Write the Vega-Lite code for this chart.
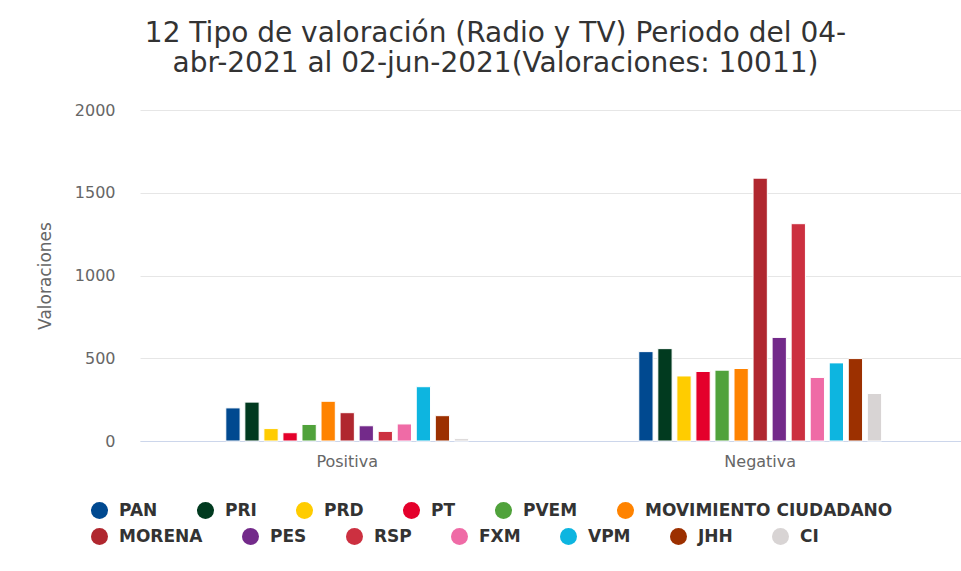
{
  "$schema": "https://vega.github.io/schema/vega-lite/v6.json",
  "width": 821,
  "height": 331,
  "autosize": {"type": "none"},
  "padding": {"left": 140, "top": 110, "right": 0, "bottom": 130},
  "background": "white",
  "title": {
    "text": ["12 Tipo de valoración (Radio y TV) Periodo del 04-", "abr-2021 al 02-jun-2021(Valoraciones: 10011)"],
    "font": "DejaVu Sans",
    "fontSize": 28,
    "fontWeight": "normal",
    "color": "#333333",
    "lineHeight": 30,
    "anchor": "middle",
    "frame": "group",
    "dx": -55,
    "offset": 24
  },
  "data": {
    "values": [
      {"tipo": "Positiva", "partido": "PAN", "valor": 200},
      {"tipo": "Positiva", "partido": "PRI", "valor": 235},
      {"tipo": "Positiva", "partido": "PRD", "valor": 75},
      {"tipo": "Positiva", "partido": "PT", "valor": 50},
      {"tipo": "Positiva", "partido": "PVEM", "valor": 100},
      {"tipo": "Positiva", "partido": "MOVIMIENTO CIUDADANO", "valor": 240},
      {"tipo": "Positiva", "partido": "MORENA", "valor": 171},
      {"tipo": "Positiva", "partido": "PES", "valor": 92},
      {"tipo": "Positiva", "partido": "RSP", "valor": 58},
      {"tipo": "Positiva", "partido": "FXM", "valor": 103},
      {"tipo": "Positiva", "partido": "VPM", "valor": 328},
      {"tipo": "Positiva", "partido": "JHH", "valor": 153},
      {"tipo": "Positiva", "partido": "CI", "valor": 14},
      {"tipo": "Negativa", "partido": "PAN", "valor": 540},
      {"tipo": "Negativa", "partido": "PRI", "valor": 558},
      {"tipo": "Negativa", "partido": "PRD", "valor": 393},
      {"tipo": "Negativa", "partido": "PT", "valor": 420},
      {"tipo": "Negativa", "partido": "PVEM", "valor": 428},
      {"tipo": "Negativa", "partido": "MOVIMIENTO CIUDADANO", "valor": 438},
      {"tipo": "Negativa", "partido": "MORENA", "valor": 1588},
      {"tipo": "Negativa", "partido": "PES", "valor": 626},
      {"tipo": "Negativa", "partido": "RSP", "valor": 1313},
      {"tipo": "Negativa", "partido": "FXM", "valor": 384},
      {"tipo": "Negativa", "partido": "VPM", "valor": 472},
      {"tipo": "Negativa", "partido": "JHH", "valor": 498},
      {"tipo": "Negativa", "partido": "CI", "valor": 287}
    ]
  },
  "encoding": {
    "x": {
      "field": "tipo",
      "type": "nominal",
      "sort": ["Positiva", "Negativa"],
      "scale": {"domain": ["Positiva", "Negativa"], "paddingInner": 0.4, "paddingOuter": 0.194, "align": 0.52},
      "axis": {
        "title": null,
        "labelAngle": 0,
        "labelFont": "DejaVu Sans",
        "labelFontSize": 16,
        "labelColor": "#666666",
        "labelPadding": 12,
        "ticks": false,
        "tickSize": 0,
        "domainColor": "#ccd6eb",
        "domainWidth": 1,
        "grid": false
      }
    },
    "xOffset": {
      "field": "partido",
      "type": "nominal",
      "scale": {
        "domain": ["PAN", "PRI", "PRD", "PT", "PVEM", "MOVIMIENTO CIUDADANO", "MORENA", "PES", "RSP", "FXM", "VPM", "JHH", "CI"],
        "paddingInner": 0.25,
        "paddingOuter": 0.13
      }
    },
    "y": {
      "field": "valor",
      "type": "quantitative",
      "scale": {"domain": [0, 2000], "nice": false},
      "axis": {
        "title": "Valoraciones",
        "titleFont": "DejaVu Sans",
        "titleFontSize": 17,
        "titleFontWeight": "normal",
        "titleColor": "#666666",
        "titlePadding": 20,
        "values": [0, 500, 1000, 1500, 2000],
        "format": "d",
        "labelFont": "DejaVu Sans",
        "labelFontSize": 16,
        "labelColor": "#666666",
        "labelPadding": 25,
        "domain": false,
        "ticks": false,
        "tickSize": 0,
        "gridColor": "#e6e6e6",
        "gridWidth": 1
      }
    }
  },
  "layer": [
    {
      "transform": [{"filter": {"field": "partido", "oneOf": ["PAN", "PRI", "PRD", "PT", "PVEM", "MOVIMIENTO CIUDADANO"]}}],
      "mark": {"type": "bar", "stroke": "white", "strokeWidth": 1},
      "encoding": {
        "color": {
          "field": "partido",
          "type": "nominal",
          "sort": ["PAN", "PRI", "PRD", "PT", "PVEM", "MOVIMIENTO CIUDADANO"],
          "scale": {
            "domain": ["PAN", "PRI", "PRD", "PT", "PVEM", "MOVIMIENTO CIUDADANO"],
            "range": ["#004990", "#013a1f", "#ffcc00", "#e4002b", "#50a23b", "#ff8300"]
          },
          "legend": {
            "title": null,
            "orient": "none",
            "legendX": -49,
            "legendY": 392,
            "direction": "horizontal",
            "columns": 6,
            "symbolType": "circle",
            "symbolSize": 289,
            "symbolStrokeWidth": 0,
            "symbolOpacity": 1,
            "labelFont": "DejaVu Sans",
            "labelFontSize": 17,
            "labelFontWeight": "bold",
            "labelColor": "#333333",
            "labelOffset": 11,
            "labelLimit": 500,
            "columnPadding": 39,
            "padding": 0
          }
        }
      }
    },
    {
      "transform": [{"filter": {"field": "partido", "oneOf": ["MORENA", "PES", "RSP", "FXM", "VPM", "JHH", "CI"]}}],
      "mark": {"type": "bar", "stroke": "white", "strokeWidth": 1},
      "encoding": {
        "color": {
          "field": "partido",
          "type": "nominal",
          "sort": ["MORENA", "PES", "RSP", "FXM", "VPM", "JHH", "CI"],
          "scale": {
            "domain": ["MORENA", "PES", "RSP", "FXM", "VPM", "JHH", "CI"],
            "range": ["#b0272f", "#732a8a", "#cc3040", "#ef6ba6", "#0db5e0", "#9c3000", "#d8d4d4"]
          },
          "legend": {
            "title": null,
            "orient": "none",
            "legendX": -49,
            "legendY": 418,
            "direction": "horizontal",
            "columns": 7,
            "symbolType": "circle",
            "symbolSize": 289,
            "symbolStrokeWidth": 0,
            "symbolOpacity": 1,
            "labelFont": "DejaVu Sans",
            "labelFontSize": 17,
            "labelFontWeight": "bold",
            "labelColor": "#333333",
            "labelOffset": 11,
            "labelLimit": 500,
            "columnPadding": 39,
            "padding": 0
          }
        }
      }
    }
  ],
  "resolve": {"scale": {"color": "independent"}},
  "config": {
    "view": {"stroke": null},
    "axis": {"gridDash": []}
  }
}
